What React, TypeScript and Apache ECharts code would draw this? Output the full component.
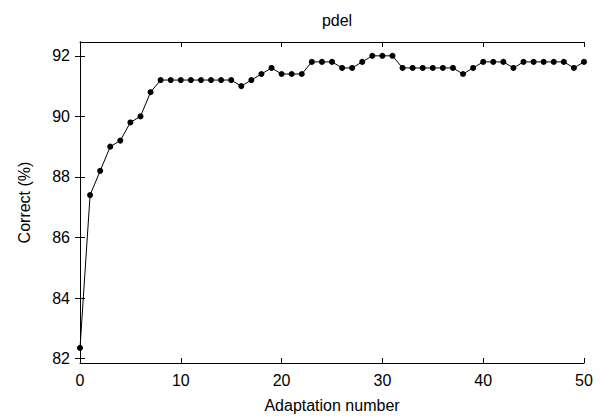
import React, { useEffect, useRef } from "react";
import * as echarts from "echarts";

const titleText = "pdel";
const xName = "Adaptation number";
const yName = "Correct (%)";
const yTicks = [82, 84, 86, 88, 90, 92];
const adaptation = Array.from({ length: 51 }, (_, i) => i);
const correct = [
  82.35, 87.4, 88.2, 89.0, 89.2, 89.8, 90.0, 90.8,
  91.2, 91.2, 91.2, 91.2, 91.2, 91.2, 91.2, 91.2,
  91.0, 91.2, 91.4, 91.6, 91.4, 91.4, 91.4,
  91.8, 91.8, 91.8, 91.6, 91.6, 91.8,
  92.0, 92.0, 92.0,
  91.6, 91.6, 91.6, 91.6, 91.6, 91.6,
  91.4, 91.6, 91.8, 91.8, 91.8, 91.6,
  91.8, 91.8, 91.8, 91.8, 91.8, 91.6, 91.8,
];

const FONT = "'Liberation Sans', Arial, Helvetica, sans-serif";

export default function App() {
  const ref = useRef<HTMLDivElement>(null);
  useEffect(() => {
    if (!ref.current) return;
    const chart = echarts.init(ref.current, null, { renderer: "svg" });
    const yMin = 81.853;
    const yMax = 92.457;
    const axisLine = { show: true, lineStyle: { color: "#000", width: 1 } };
    const tick = { show: true, inside: true, length: 5, lineStyle: { color: "#000", width: 1 } };
    chart.setOption({
      animation: false,
      backgroundColor: "#fff",
      title: {
        text: titleText,
        left: 332,
        top: 7,
        textAlign: "center",
        textStyle: { fontFamily: FONT, fontSize: 16, fontWeight: "normal", color: "#000" },
      },
      grid: { left: 80, right: 17, top: 42, bottom: 51, containLabel: false },
      xAxis: [
        {
          type: "value",
          min: 0,
          max: 50,
          interval: 10,
          position: "bottom",
          name: xName,
          nameLocation: "middle",
          nameGap: 34,
          nameTextStyle: { fontFamily: FONT, fontSize: 16, color: "#000" },
          axisLine,
          axisTick: tick,
          axisLabel: { fontFamily: FONT, fontSize: 16, color: "#000", margin: 9 },
          splitLine: { show: false },
        },
        {
          type: "value",
          min: 0,
          max: 50,
          interval: 10,
          position: "top",
          axisLine,
          axisTick: tick,
          axisLabel: { show: false },
          splitLine: { show: false },
        },
      ],
      yAxis: [
        {
          type: "value",
          min: yMin,
          max: yMax,
          position: "left",
          name: yName,
          nameLocation: "middle",
          nameGap: 48,
          nameTextStyle: { fontFamily: FONT, fontSize: 16, color: "#000" },
          axisLine,
          axisTick: { ...tick, customValues: yTicks },
          axisLabel: {
            fontFamily: FONT,
            fontSize: 16,
            color: "#000",
            margin: 10,
            customValues: yTicks,
            formatter: (v: number) => String(Math.round(v)),
          },
          splitLine: { show: false },
        },
        {
          type: "value",
          min: yMin,
          max: yMax,
          position: "right",
          axisLine,
          axisTick: { ...tick, customValues: yTicks },
          axisLabel: { show: false },
          splitLine: { show: false },
        },
      ],
      series: [
        {
          type: "line",
          data: adaptation.map((x, i) => [x, correct[i]]),
          symbol: "circle",
          symbolSize: 6,
          showSymbol: true,
          lineStyle: { color: "#000", width: 1 },
          itemStyle: { color: "#000" },
          clip: false,
        },
      ],
    });
    return () => chart.dispose();
  }, []);
  return (
    <div
      ref={ref}
      style={{ position: "fixed", left: 0, top: 0, width: 601, height: 418, background: "#fff" }}
    />
  );
}
